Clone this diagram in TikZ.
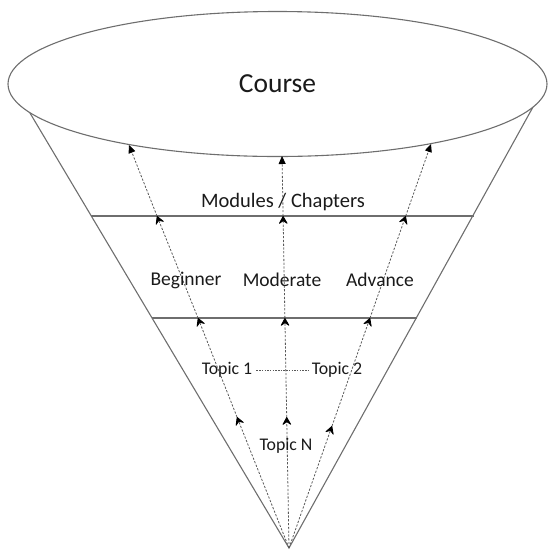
\documentclass[tikz,border=0pt]{standalone}
\usepackage{fontspec}
\setmainfont{Carlito}
\usetikzlibrary{arrows.meta,shapes.geometric}
\definecolor{linegray}{HTML}{6E6E6E}
\definecolor{txt}{HTML}{1A1A1A}
\begin{document}
\begin{tikzpicture}[x=1pt,y=-1pt,
  outline/.style={draw=linegray,line width=1.1pt},
  flow/.style={draw=black!65,line width=0.8pt,dash pattern=on 2.2pt off 1.6pt},
  midtip/.style={flow,-{Stealth[length=9pt,width=10pt,inset=3.4pt,round,color=black,line width=0.8pt]}},
  endtip/.style={flow,-{Triangle[length=8pt,width=7pt,color=black]}},
  lbl/.style={text=txt,inner sep=1pt}]
\useasboundingbox (0,0) rectangle (548,550);
% cone
\coordinate (apex) at (289,548);
\coordinate (lt) at (27,108);
\coordinate (rt) at (533,107);
\draw[outline] (lt) -- (apex) -- (rt);
% ellipse
\node[ellipse,outline,fill=white,minimum width=539pt,minimum height=145pt,inner sep=0pt,
  font=\fontsize{27.5}{30}\selectfont,text=txt] (course) at (277.5,84) {Course};
% level lines
\coordinate (l1a) at (91.3,216); \coordinate (l1b) at (473.5,216);
\coordinate (l2a) at (152,318); \coordinate (l2b) at (416.5,318);
\draw[outline] (l1a) -- (l1b);
\draw[outline] (l2a) -- (l2b);
% arrow points
\coordinate (a0) at (129,145); \coordinate (a1) at (157,216); \coordinate (a2) at (198,318); \coordinate (a3) at (237,417);
\coordinate (b0) at (282,156); \coordinate (b1) at (283.1,216); \coordinate (b2) at (284.9,318); \coordinate (b3) at (286.7,417);
\coordinate (c0) at (431,144); \coordinate (c1) at (405.7,216); \coordinate (c2) at (370,318); \coordinate (c3) at (332,426);
\foreach \p in {a,b,c}{
  \draw[midtip] (apex) -- (\p3);
  \draw[midtip] (\p3) -- (\p2);
  \draw[midtip] (\p2) -- (\p1);
  \draw[endtip] (\p1) -- (\p0);
}
% labels
\node[lbl,font=\fontsize{20.5}{24}\selectfont] (mods) at (283,202) {Modules / Chapters};
\node[lbl,font=\fontsize{19.5}{23}\selectfont] (beg) at (186,280) {Beginner};
\node[lbl,font=\fontsize{19.5}{23}\selectfont] (mod) at (282,280) {Moderate};
\node[lbl,font=\fontsize{19.5}{23}\selectfont] (adv) at (380,280) {Advance};
\node[lbl,font=\fontsize{17.8}{21}\selectfont] (t1) at (227,370) {Topic 1};
\node[lbl,font=\fontsize{17.8}{21}\selectfont] (t2) at (337,370) {Topic 2};
\node[lbl,font=\fontsize{17.8}{21}\selectfont] (tn) at (286,446) {Topic N};
\draw[draw=black!65,line width=0.75pt,dash pattern=on 1.5pt off 1.2pt,shorten <=3pt,shorten >=2pt] (t1.east) -- (t2.west);
\end{tikzpicture}
\end{document}
